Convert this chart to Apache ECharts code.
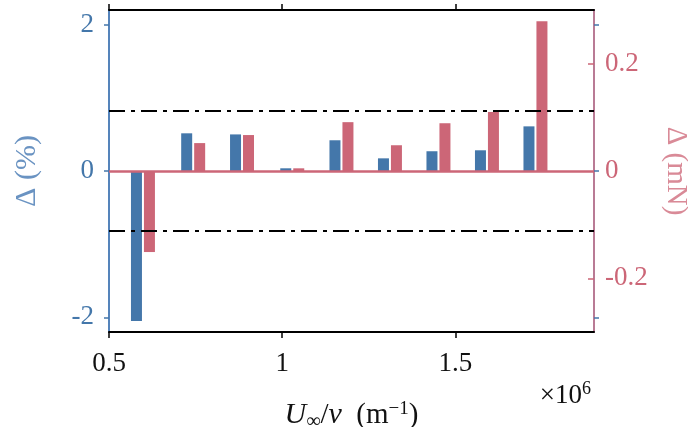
<!DOCTYPE html>
<html>
<head>
<meta charset="utf-8">
<script src="https://cdn.jsdelivr.net/npm/echarts@6/dist/echarts.min.js"></script>
<style>html,body{margin:0;padding:0;background:#fff}#c{width:688px;height:427px}</style>
</head>
<body>
<div id="c"></div>
<script>
// Reynolds number per unit length (x 1e6)
var reUnit = [0.598, 0.743, 0.884, 1.029, 1.171, 1.311, 1.451, 1.591, 1.731];
// Relative difference (%)
var deltaPct = [-2.05, 0.515, 0.50, 0.037, 0.42, 0.173, 0.27, 0.283, 0.61];
// Absolute difference (mN)
var deltaMN = [-0.151, 0.052, 0.067, 0.005, 0.091, 0.048, 0.089, 0.11, 0.279];
var thresholdPct = 0.82;
var xTicks = [0.5, 1, 1.5];
var leftTicks = [-2, 0, 2];
var rightTicks = [-0.2, 0, 0.2];

var BLUE = '#4477AA', PINK = '#CC6677';
var FONT = 'Liberation Serif';

var chart = echarts.init(document.getElementById('c'), null, {renderer: 'canvas'});
function pairs(xs, ys) { return xs.map(function (x, i) { return [x, ys[i]]; }); }

chart.setOption({
  animation: false,
  grid: {left: 109, right: 94, top: 10, bottom: 95, containLabel: false, outerBoundsMode: 'none'},
  xAxis: [{
    type: 'value', min: 0.5, max: 1.9, position: 'bottom',
    axisLine: {show: true, onZero: false, lineStyle: {color: '#000', width: 2}},
    axisTick: {show: true, inside: false, length: 6, customValues: xTicks, lineStyle: {color: '#000', width: 1.5}},
    axisLabel: {customValues: xTicks, margin: 18, color: '#111', fontFamily: FONT, fontSize: 27},
    splitLine: {show: false},
    name: '{i|U}{sub|∞}{r|/}{i|ν}{r|  (m}{sup|−1}{r|)}',
    nameLocation: 'middle', nameGap: 67,
    nameTextStyle: {
      color: '#111', fontFamily: FONT, fontSize: 29,
      rich: {
        i: {fontFamily: FONT, fontStyle: 'italic', fontSize: 30, color: '#111'},
        r: {fontFamily: FONT, fontSize: 29, color: '#111'},
        sub: {fontFamily: FONT, fontSize: 20, color: '#111', padding: [13, 0, 0, 0]},
        sup: {fontFamily: FONT, fontSize: 19, color: '#111', padding: [0, 0, 13, 0]}
      }
    }
  }, {
    type: 'value', min: 0.5, max: 1.9, position: 'top',
    axisLine: {show: true, onZero: false, lineStyle: {color: '#000', width: 2}},
    axisTick: {show: true, inside: false, length: 6, customValues: xTicks, lineStyle: {color: '#000', width: 1.5}},
    axisLabel: {show: false},
    splitLine: {show: false}
  }],
  yAxis: [{
    type: 'value', min: -2.2, max: 2.2, position: 'left',
    axisLine: {show: true, onZero: false, lineStyle: {color: '#5584bb', width: 2}},
    axisTick: {show: true, inside: false, length: 5, customValues: leftTicks, lineStyle: {color: BLUE, width: 1.5}},
    axisLabel: {customValues: leftTicks, margin: 15, color: BLUE, fontFamily: FONT, fontSize: 27},
    splitLine: {show: false},
    name: 'Δ (%)', nameLocation: 'middle', nameGap: 67, nameRotate: 90,
    nameTextStyle: {color: '#6a93c2', fontFamily: FONT, fontSize: 30}
  }, {
    type: 'value', min: -0.3, max: 0.3, position: 'right',
    axisLine: {show: true, onZero: false, lineStyle: {color: '#b97b95', width: 2}},
    axisTick: {show: true, inside: true, length: 6, customValues: [-0.2, 0.2], lineStyle: {color: PINK, width: 1.5}},
    axisLabel: {customValues: rightTicks, margin: 11, color: PINK, fontFamily: FONT, fontSize: 27},
    splitLine: {show: false},
    name: 'Δ (mN)', nameLocation: 'middle', nameGap: 67, nameRotate: -90,
    nameTextStyle: {color: '#d98a97', fontFamily: FONT, fontSize: 29}
  }, {
    type: 'value', min: -2.2, max: 2.2, position: 'right',
    axisLine: {show: false},
    axisTick: {show: true, inside: false, length: 5, customValues: leftTicks, lineStyle: {color: BLUE, width: 1.5}},
    axisLabel: {show: false},
    splitLine: {show: false}
  }],
  graphic: [{
    type: 'text', right: 97, top: 380, z: 10,
    style: {
      text: '×10{s|6}', fill: '#111', font: '27px "Liberation Serif"',
      rich: {s: {fontFamily: FONT, fontSize: 18, fill: '#111', padding: [0, 0, 13, 0]}}
    }
  }],
  series: [{
    type: 'bar', name: 'Δ (%)', xAxisIndex: 0, yAxisIndex: 0,
    data: pairs(reUnit, deltaPct), barWidth: 11, barGap: '18%',
    itemStyle: {color: BLUE},
    markLine: {
      silent: true, symbol: 'none', label: {show: false}, z: 5,
      lineStyle: {color: '#000', width: 2, type: [16, 6, 4, 6]},
      data: [{yAxis: thresholdPct}, {yAxis: -thresholdPct}]
    }
  }, {
    type: 'bar', name: 'Δ (mN)', xAxisIndex: 0, yAxisIndex: 1,
    data: pairs(reUnit, deltaMN), barWidth: 11, barGap: '18%',
    itemStyle: {color: PINK},
    markLine: {
      silent: true, symbol: 'none', label: {show: false}, z: 4,
      lineStyle: {color: PINK, width: 2.5, type: 'solid'},
      data: [{yAxis: 0}]
    }
  }]
});
</script>
</body>
</html>
